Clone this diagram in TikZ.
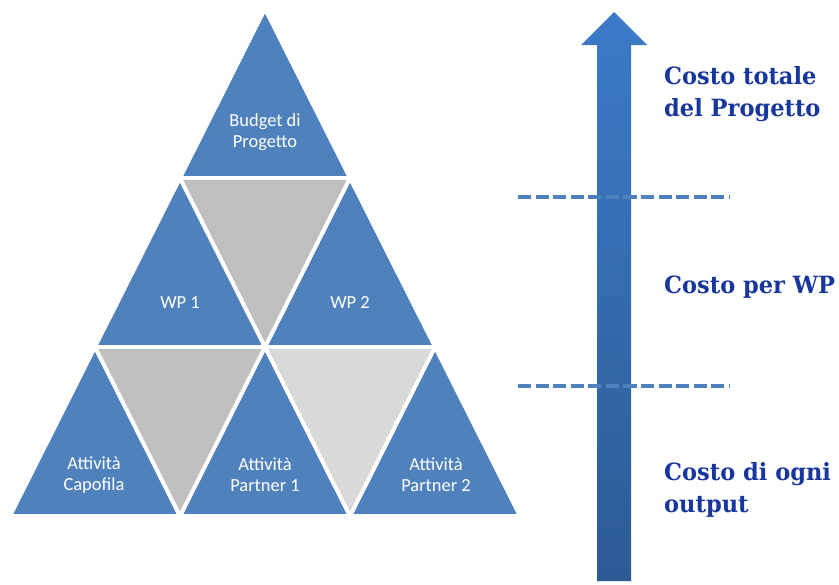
\documentclass[tikz,border=0pt]{standalone}
\usepackage{fontspec}
\setmainfont{Carlito}
\newfontfamily\costofont[FakeStretch=0.95]{DejaVu Serif}
\usetikzlibrary{arrows.meta, positioning}

\definecolor{pyrblue}{HTML}{4F81BD}
\definecolor{pyrgray}{HTML}{BFBFBF}
\definecolor{pyrlight}{HTML}{D9D9D9}
\definecolor{costoblue}{HTML}{17369E}
\definecolor{arrowtop}{HTML}{3C7BC8}
\definecolor{arrowbot}{HTML}{2D5B94}

\tikzset{
  up/.style={fill=pyrblue, draw=white, line width=2.2pt, line join=miter},
  down/.style={fill=pyrgray, draw=white, line width=2.2pt, line join=miter},
  tri/.style={text=white, align=center, font=\fontsize{10.5}{11.8}\selectfont},
  costo/.style={text=costoblue, anchor=west, align=left, font=\costofont\bfseries\fontsize{13.5}{18.5}\selectfont},
  level/.style={draw=pyrblue, line width=2.5pt, dash pattern=on 7.5pt off 2.5pt}
}

\begin{document}
\begin{tikzpicture}[x=0.02cm, y=-0.02cm]
			\useasboundingbox (0,0) rectangle (839,585);

			% Points of the pyramid
			\coordinate (p00) at (265, 9);
			\coordinate (p10) at (265-85, 9+169);
			\coordinate (p11) at (265+85, 9+169);
			\coordinate (p20) at (265-170, 9+2*169);
			\coordinate (p21) at (265, 9+2*169);
			\coordinate (p22) at (265+170, 9+2*169);
			\coordinate (p30) at (265-255, 9+3*169);
			\coordinate (p31) at (265-85, 9+3*169);
			\coordinate (p32) at (265+85, 9+3*169);
			\coordinate (p33) at (265+255, 9+3*169);

			% Draw the triangles pointing up
			\draw[up] (p00) -- (p10) -- (p11) -- cycle;
			\draw[up] (p10) -- (p20) -- (p21) -- cycle;
			\draw[up] (p11) -- (p21) -- (p22) -- cycle;
			\draw[up] (p20) -- (p30) -- (p31) -- cycle;
			\draw[up] (p21) -- (p31) -- (p32) -- cycle;
			\draw[up] (p22) -- (p32) -- (p33) -- cycle;

			% Draw the triangles pointing down
			\draw[down] (p10) -- (p11) -- (p21) -- cycle;
			\draw[down] (p20) -- (p21) -- (p31) -- cycle;
			\draw[down, fill=pyrlight] (p21) -- (p22) -- (p32) -- cycle;

			% Labels of the pyramid
			\node[tri] (budget) at (265, 132) {Budget di\\Progetto};
			\node[tri] (wp1) at (180, 303) {WP 1};
			\node[tri] (wp2) at (350, 303) {WP 2};
			\node[tri] (capofila) at (94, 475) {Attività\\Capofila};
			\node[tri] (partner1) at (265, 475) {Attività\\Partner 1};
			\node[tri] (partner2) at (436, 475) {Attività\\Partner 2};

			% Draw the arrow
			\shade[top color=arrowtop, bottom color=arrowbot]
				(614-17, 581) -- (614-17, 45) -- (614-33, 45) -- (614, 12)
				-- (614+33, 45) -- (614+17, 45) -- (614+17, 581) -- cycle;

			% Draw the dashed levels
			\coordinate (l1a) at (518, 197);
			\coordinate (l1b) at (730, 197);
			\coordinate (l2a) at (518, 386);
			\coordinate (l2b) at (730, 386);
			\draw[level] (l1a) -- (l1b);
			\draw[level] (l2a) -- (l2b);

			% Labels on the right
			\node[costo] (totale) at (658, 94) {Costo totale\\del Progetto};
			\node[costo] (perwp) at (658, 287) {Costo per WP};
			\node[costo] (output) at (658, 490) {Costo di ogni\\output};

		\end{tikzpicture}
\end{document}
